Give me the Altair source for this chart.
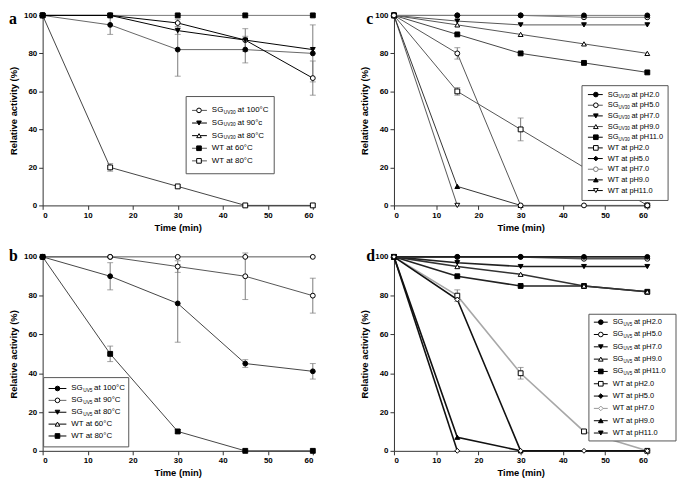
import altair as alt
import pandas as pd

FONT = 'Liberation Sans'
ERR_COLOR = '#7a7a7a'

TIME = [0, 15, 30, 45, 60]

# ---- panel a : SG(UV30) vs WT, heat stability
A_SG100 = [100, 100, 96, 87, 67]
A_SG100_ERR = [0, 0, 2, 6, 9]
A_SG90 = [100, 100, 92, 87, 82]
A_SG90_ERR = [0, 0, 2, 0, 0]
A_SG80 = [100, 95, 82, 82, 80]
A_SG80_ERR = [0, 5, 14, 7, 15]
A_WT60 = [100, 100, 100, 100, 100]
A_WT80 = [100, 20, 10, 0, 0]
A_WT80_ERR = [0, 2, 0, 0, 0]

# ---- panel b : SG(UV5) vs WT, heat stability
B_SG100 = [100, 90, 76, 45, 41]
B_SG100_ERR = [0, 7, 20, 2, 4]
B_SG90 = [100, 100, 95, 90, 80]
B_SG90_ERR = [0, 0, 3, 12, 9]
B_SG80 = [100, 100, 100, 100, 100]
B_WT80 = [100, 50, 10, 0, 0]
B_WT80_ERR = [0, 4, 1, 0, 0]

# ---- panel c : SG(UV30) vs WT, pH stability
C_SG2 = [100, 100, 100, 100, 100]
C_SG5 = [100, 100, 100, 99, 99]
C_SG7 = [100, 97, 95, 95, 95]
C_SG9 = [100, 95, 90, 85, 80]
C_SG11 = [100, 90, 80, 75, 70]
C_WT2_TIME = [0, 15, 30, 60]
C_WT2 = [100, 60, 40, 0]
C_WT2_ERR = [0, 2, 6, 0]
C_WT7 = [100, 80, 0, 0, 0]
C_WT7_ERR = [0, 3, 0, 0, 0]
C_WT9_TIME = [0, 15, 30]
C_WT9 = [100, 10, 0]
C_WT11_TIME = [0, 15]
C_WT11 = [100, 0]

# ---- panel d : SG(UV5) vs WT, pH stability
D_SG2 = [100, 100, 100, 100, 100]
D_SG5 = [100, 100, 100, 99, 99]
D_SG7 = [100, 97, 95, 95, 95]
D_SG9 = [100, 95, 91, 85, 82]
D_SG11 = [100, 90, 85, 85, 82]
D_WT2 = [100, 80, 40, 10, 0]
D_WT2_ERR = [0, 3, 3, 1, 0]
D_WT7 = [100, 78, 0, 0, 0]
D_WT9_TIME = [0, 15, 30]
D_WT9 = [100, 7, 0]
D_WT11_TIME = [0, 15]
D_WT11 = [100, 0]

# ---- legend texts (head, subscript, tail)
A_LEG_HEAD = ['SG', 'SG', 'SG', 'WT at 60°C', 'WT at 80°C']
A_LEG_SUB = ['UV30', 'UV30', 'UV30', '', '']
A_LEG_TAIL = ['at 100°C', 'at 90°c', 'at 80°C', '', '']

B_LEG_HEAD = ['SG', 'SG', 'SG', 'WT at 60°C', 'WT at 80°C']
B_LEG_SUB = ['UV5', 'UV5', 'UV5', '', '']
B_LEG_TAIL = ['at 100°C', 'at 90°C', 'at 80°C', '', '']

C_LEG_HEAD = ['SG', 'SG', 'SG', 'SG', 'SG', 'WT at pH2.0', 'WT at  pH5.0',
              'WT at  pH7.0', 'WT at  pH9.0', 'WT at  pH11.0']
C_LEG_SUB = ['UV30'] * 5 + [''] * 5
C_LEG_TAIL = ['at pH2.0', 'at pH5.0', 'at pH7.0', 'at pH9.0', 'at pH11.0'] + [''] * 5

D_LEG_HEAD = ['SG', 'SG', 'SG', 'SG', 'SG', 'WT at pH2.0', 'WT at pH5.0',
              'WT at pH7.0', 'WT at pH9.0', 'WT at pH11.0']
D_LEG_SUB = ['UV5'] * 5 + [''] * 5
D_LEG_TAIL = ['at pH2.0', 'at pH5.0', 'at pH7.0', 'at pH9.0', 'at pH11.0'] + [''] * 5

# styles: key -> (shape, fill, stroke, line colour, line width)
A_STYLE = {
    'sg100': ('circle', 'white', 'black', 'black', 1),
    'sg90': ('triangle-down', 'black', 'black', 'black', 1),
    'sg80': ('circle', 'black', 'black', '#666666', 1),
    'wt80': ('square', 'white', 'black', '#444444', 1),
    'wt60': ('square', 'black', 'black', '#777777', 1),
}
B_STYLE = {
    'sg80': ('circle', 'white', 'black', '#555555', 1),
    'sg90': ('circle', 'white', 'black', '#555555', 1),
    'wt80': ('square', 'black', 'black', '#444444', 1),
    'sg100': ('circle', 'black', 'black', '#444444', 1),
}
C_STYLE = {
    'wt11': ('triangle-down', 'white', 'black', '#555555', 1),
    'wt9': ('triangle-up', 'black', 'black', '#333333', 1),
    'wt2': ('square', 'white', 'black', '#555555', 1),
    'sg11': ('square', 'black', 'black', '#444444', 1),
    'sg9': ('triangle-up', 'white', 'black', '#555555', 1),
    'sg7': ('triangle-down', 'black', 'black', '#555555', 1),
    'sg5': ('circle', 'white', 'black', '#777777', 1),
    'sg2': ('circle', 'black', 'black', '#777777', 1),
    'wt7': ('circle', 'white', 'black', '#555555', 1),
}
D_STYLE = {
    'wt11': ('diamond', 'white', 'black', '#111111', 1.6),
    'wt9': ('triangle-up', 'black', 'black', '#111111', 1.6),
    'wt2': ('square', 'white', 'black', '#a8a8a8', 1),
    'sg11': ('square', 'black', 'black', '#222222', 1.3),
    'sg9': ('triangle-up', 'white', 'black', '#333333', 1.3),
    'sg7': ('triangle-down', 'black', 'black', '#222222', 1.3),
    'sg5': ('circle', 'white', 'black', '#555555', 1.3),
    'sg2': ('circle', 'black', 'black', '#222222', 1.3),
    'wt7': ('diamond', 'white', 'black', '#111111', 1.6),
}
# legend symbols: (shape, fill, stroke, line colour)
A_LEG_STYLE = [('circle', 'white', 'black', '#555555'), ('triangle-down', 'black', 'black', 'black'),
               ('triangle-up', 'white', 'black', 'black'), ('square', 'black', 'black', '#555555'),
               ('square', 'white', 'black', '#555555')]
B_LEG_STYLE = [('circle', 'black', 'black', 'black'), ('circle', 'white', 'black', '#666666'),
               ('triangle-down', 'black', 'black', 'black'), ('triangle-up', 'white', 'black', 'black'),
               ('square', 'black', 'black', 'black')]
C_LEG_STYLE = [('circle', 'black', 'black', 'black'), ('circle', 'white', 'black', '#555555'),
               ('triangle-down', 'black', 'black', 'black'), ('triangle-up', 'white', 'black', '#555555'),
               ('square', 'black', 'black', 'black'), ('square', 'white', 'black', 'black'),
               ('diamond', 'black', 'black', 'black'), ('circle', 'white', '#777777', '#777777'),
               ('triangle-up', 'black', 'black', 'black'), ('triangle-down', 'white', 'black', 'black')]
D_LEG_STYLE = [('circle', 'black', 'black', 'black'), ('circle', 'white', 'black', 'black'),
               ('triangle-down', 'black', 'black', 'black'), ('triangle-up', 'white', 'black', 'black'),
               ('square', 'black', 'black', 'black'), ('square', 'white', 'black', 'black'),
               ('diamond', 'black', 'black', 'black'), ('diamond', 'white', '#999999', '#999999'),
               ('triangle-up', 'black', 'black', 'black'), ('triangle-down', 'black', 'black', 'black')]

# legend / letter placement inside each panel (pixels, relative to plot area)
GEOM_A = dict(bx0=145, bx1=234, by0=82, by1=160, r0=96, r1=147, l0=151, l1=166, mx=158, tx=171,
              fs=8, dsub=12, dtail=26, lx=-34, ly=-4)
GEOM_B = dict(bx0=1, bx1=87, by0=122, by1=192, r0=133, r1=181, l0=6, l1=24, mx=15, tx=29,
              fs=8, dsub=12, dtail=23, lx=-34, ly=-9)
GEOM_C = dict(bx0=190, bx1=277, by0=71, by1=187, r0=80, r1=177, l0=196, l1=211, mx=204, tx=216,
              fs=7.5, dsub=11, dtail=24, lx=-28, ly=-4)
GEOM_D = dict(bx0=197, bx1=285, by0=58, by1=186, r0=66, r1=178, l0=202, l1=216, mx=209, tx=221,
              fs=7.5, dsub=11, dtail=21.5, lx=-28, ly=-9)


def frame(series, style):
    rows = []
    order = list(style)
    for key, times, vals, errs in series:
        for i, t in enumerate(times):
            e = errs[i] if errs else 0
            rows.append(dict(key=key, t=t, v=vals[i], lo=vals[i] - e, hi=vals[i] + e, err=e,
                             z=order.index(key)))
    return pd.DataFrame(rows)


def xenc(field):
    return alt.X(field, type='quantitative', title='Time (min)',
                 scale=alt.Scale(domain=[0, 60], nice=False),
                 axis=alt.Axis(values=[0, 10, 20, 30, 40, 50, 60], titlePadding=3))


def yenc(field):
    return alt.Y(field, type='quantitative', title='Relative activity (%)',
                 scale=alt.Scale(domain=[0, 100], nice=False),
                 axis=alt.Axis(values=[0, 20, 40, 60, 80, 100], titlePadding=5))


def panel(series, style, head, sub, tail, leg_style, g, letter, width, height):
    df = frame(series, style)
    keys = list(style)

    def sc(i):
        return alt.Scale(domain=keys, range=[style[k][i] for k in keys])

    base = alt.Chart(df)
    lines = base.mark_line().encode(
        x=xenc('t'), y=yenc('v'), detail='key:N', order='t:Q',
        color=alt.Color('key:N', scale=sc(3), legend=None),
        strokeWidth=alt.StrokeWidth('key:N', scale=sc(4), legend=None))
    errs = base.transform_filter('datum.err > 0')
    bars = errs.mark_rule(color=ERR_COLOR, strokeWidth=1).encode(x=xenc('t'), y=yenc('lo'), y2='hi:Q')
    caps_lo = errs.mark_tick(color=ERR_COLOR, thickness=1, size=6, orient='horizontal').encode(
        x=xenc('t'), y=yenc('lo'))
    caps_hi = errs.mark_tick(color=ERR_COLOR, thickness=1, size=6, orient='horizontal').encode(
        x=xenc('t'), y=yenc('hi'))
    pts = base.mark_point(size=24, strokeWidth=1, opacity=1).encode(
        x=xenc('t'), y=yenc('v'), order='z:Q',
        shape=alt.Shape('key:N', scale=sc(0), legend=None),
        fill=alt.Fill('key:N', scale=sc(1), legend=None),
        stroke=alt.Stroke('key:N', scale=sc(2), legend=None))
    main = alt.layer(lines, bars, caps_lo, caps_hi, pts)

    # hand-made key box
    n = len(head)
    lkeys = ['k%d' % i for i in range(n)]
    ldf = pd.DataFrame({'row': list(range(n)), 'lkey': lkeys, 'head': head, 'sub': sub, 'tail': tail})

    def lsc(i):
        return alt.Scale(domain=lkeys, range=[s[i] for s in leg_style])

    ly = alt.Y('row:O', axis=None, scale=alt.Scale(type='point', padding=0, range=[g['r0'], g['r1']]))
    box = alt.Chart(pd.DataFrame({'b': [0]})).mark_rect(fill='white', stroke='#555555', strokeWidth=1).encode(
        x=alt.value(g['bx0']), x2=alt.value(g['bx1']), y=alt.value(g['by0']), y2=alt.value(g['by1']))
    lb = alt.Chart(ldf)
    segs = lb.mark_rule(strokeWidth=1).encode(
        x=alt.value(g['l0']), x2=alt.value(g['l1']), y=ly,
        color=alt.Color('lkey:N', scale=lsc(3), legend=None))
    lpts = lb.mark_point(size=22, strokeWidth=1, opacity=1).encode(
        x=alt.value(g['mx']), y=ly,
        shape=alt.Shape('lkey:N', scale=lsc(0), legend=None),
        fill=alt.Fill('lkey:N', scale=lsc(1), legend=None),
        stroke=alt.Stroke('lkey:N', scale=lsc(2), legend=None))
    t_head = lb.mark_text(align='left', baseline='middle', font=FONT, fontSize=g['fs'], color='black').encode(
        x=alt.value(g['tx']), y=ly, text='head:N')
    t_sub = lb.mark_text(align='left', baseline='middle', font=FONT, fontSize=g['fs'] * 0.6, color='black',
                         dx=g['dsub'], dy=2.5).encode(x=alt.value(g['tx']), y=ly, text='sub:N')
    t_tail = lb.mark_text(align='left', baseline='middle', font=FONT, fontSize=g['fs'], color='black',
                          dx=g['dtail']).encode(x=alt.value(g['tx']), y=ly, text='tail:N')
    tag = alt.Chart(pd.DataFrame({'s': [letter]})).mark_text(
        align='left', baseline='top', font='Liberation Serif', fontSize=16, fontWeight='bold',
        color='black').encode(x=alt.value(g['lx']), y=alt.value(g['ly']), text='s:N')
    key = alt.layer(box, segs, lpts, t_head, t_sub, t_tail, tag)

    return alt.layer(main, key).resolve_scale(
        y='independent', color='independent', shape='independent', fill='independent', stroke='independent'
    ).properties(width=width, height=height)


panel_a = panel(
    [('wt60', TIME, A_WT60, None), ('wt80', TIME, A_WT80, A_WT80_ERR),
     ('sg80', TIME, A_SG80, A_SG80_ERR), ('sg90', TIME, A_SG90, A_SG90_ERR),
     ('sg100', TIME, A_SG100, A_SG100_ERR)],
    A_STYLE, A_LEG_HEAD, A_LEG_SUB, A_LEG_TAIL, A_LEG_STYLE, GEOM_A, 'a', 273, 192)

panel_b = panel(
    [('sg80', TIME, B_SG80, None), ('sg90', TIME, B_SG90, B_SG90_ERR),
     ('wt80', TIME, B_WT80, B_WT80_ERR), ('sg100', TIME, B_SG100, B_SG100_ERR)],
    B_STYLE, B_LEG_HEAD, B_LEG_SUB, B_LEG_TAIL, B_LEG_STYLE, GEOM_B, 'b', 273, 196)

panel_c = panel(
    [('wt11', C_WT11_TIME, C_WT11, None), ('wt9', C_WT9_TIME, C_WT9, None),
     ('wt2', C_WT2_TIME, C_WT2, C_WT2_ERR), ('sg11', TIME, C_SG11, None),
     ('sg9', TIME, C_SG9, None), ('sg7', TIME, C_SG7, None), ('sg5', TIME, C_SG5, None),
     ('sg2', TIME, C_SG2, None), ('wt7', TIME, C_WT7, C_WT7_ERR)],
    C_STYLE, C_LEG_HEAD, C_LEG_SUB, C_LEG_TAIL, C_LEG_STYLE, GEOM_C, 'c', 256, 192)

panel_d = panel(
    [('wt11', D_WT11_TIME, D_WT11, None), ('wt9', D_WT9_TIME, D_WT9, None),
     ('wt2', TIME, D_WT2, D_WT2_ERR), ('sg11', TIME, D_SG11, None),
     ('sg9', TIME, D_SG9, None), ('sg7', TIME, D_SG7, None), ('sg5', TIME, D_SG5, None),
     ('sg2', TIME, D_SG2, None), ('wt7', TIME, D_WT7, None)],
    D_STYLE, D_LEG_HEAD, D_LEG_SUB, D_LEG_TAIL, D_LEG_STYLE, GEOM_D, 'd', 256, 196)

INDEP = dict(x='independent', y='independent', color='independent', shape='independent',
             fill='independent', stroke='independent', strokeWidth='independent')

chart = alt.concat(
    panel_a, panel_c, panel_b, panel_d, columns=2, spacing={'row': 52, 'column': 82}, bounds='flush'
).resolve_scale(**INDEP).properties(
    padding={'left': 0, 'top': 0, 'right': 0, 'bottom': 0}
).configure_view(
    stroke=None
).configure_axis(
    labelFont=FONT, labelFontSize=8, labelFontWeight='bold', labelColor='black', labelPadding=2,
    titleFont=FONT, titleFontSize=9.5, titleFontWeight='bold', titleColor='black',
    domainColor='#333333', tickColor='#333333', tickSize=4, grid=False
)

chart.save("out.html", embed_options={"renderer": "svg", "actions": False})
